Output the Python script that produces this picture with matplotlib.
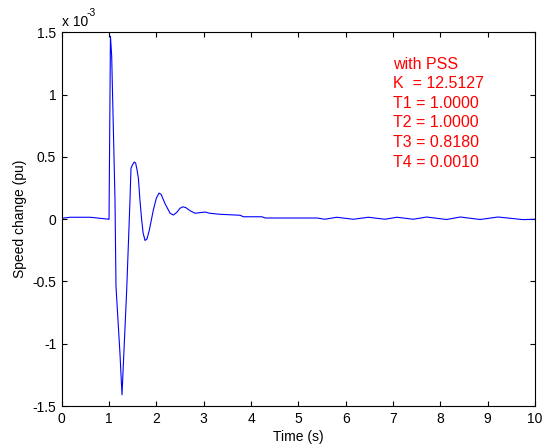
import matplotlib
matplotlib.use("Agg")
import matplotlib.pyplot as plt

# Time (s) and speed change (units of 1e-3 pu)
time_s = [0.0, 0.18, 0.6, 0.88, 0.99, 1.0, 1.03, 1.056, 1.126, 1.147, 1.23, 1.274,
          1.373, 1.443, 1.464, 1.50, 1.534, 1.563, 1.59, 1.62, 1.654, 1.69, 1.72,
          1.76, 1.80, 1.85, 1.936, 2.00, 2.056, 2.10, 2.18, 2.29, 2.36, 2.43, 2.50,
          2.556, 2.62, 2.71, 2.82, 2.92, 3.03, 3.13, 3.34, 3.77, 3.84, 4.23, 4.30,
          5.40, 5.56, 5.81, 6.16, 6.48, 6.83, 7.08, 7.43, 7.71, 8.13, 8.42, 8.84,
          9.22, 9.75, 10.0]
speed_change = [0.008, 0.016, 0.016, 0.005, 0.0, 0.0, 1.47, 1.31, 0.155, -0.54, -1.07, -1.41,
                -0.57, 0.155, 0.41, 0.44, 0.46, 0.45, 0.40, 0.33, 0.15, -0.006, -0.11,
                -0.17, -0.16, -0.09, 0.074, 0.17, 0.21, 0.20, 0.128, 0.048, 0.034, 0.055, 0.088,
                0.10, 0.094, 0.069, 0.048, 0.053, 0.058, 0.048, 0.04, 0.032, 0.02, 0.02, 0.01,
                0.01, 0.0, 0.016, 0.0, 0.016, 0.0, 0.016, 0.0, 0.018, -0.002, 0.018, -0.002,
                0.018, -0.003, 0.0]

x_ticks = list(range(0, 11))
y_ticks = [-1.5, -1, -0.5, 0, 0.5, 1, 1.5]
y_tick_labels = ["-1.5", "-1", "-0.5", "0", "0.5", "1", "1.5"]
annotation = ["with PSS", "K  = 12.5127", "T1 = 1.0000", "T2 = 1.0000",
              "T3 = 0.8180", "T4 = 0.0010"]

plt.rcParams['font.family'] = ['Liberation Sans', 'DejaVu Sans']
plt.rcParams['lines.solid_joinstyle'] = 'round'

W, H = 544, 444
fig = plt.figure(figsize=(W / 100, H / 100), dpi=100)
ax = fig.add_axes([61.7 / W, 1 - 406 / H, (535 - 61.7) / W, (406 - 32.5) / H])

ax.plot(time_s, speed_change, color='#0000ff', lw=0.8)
ax.set_xlim(0, 10)
ax.set_ylim(-1.5, 1.5)
ax.set_xticks(x_ticks)
ax.set_yticks(y_ticks)
ax.set_yticklabels(y_tick_labels)
ax.tick_params(direction='in', length=3.5, width=0.8, top=True, right=True,
               labelsize=10, pad=4, colors='black')
for s in ax.spines.values():
    s.set_linewidth(0.8)
    s.set_color('black')

ax.set_xlabel("Time (s)", fontsize=10, labelpad=3)
ax.set_ylabel("Speed change (pu)", fontsize=10, labelpad=4)

# exponent label
fig.text(62 / W, 1 - 26 / H, "x 10", fontsize=10, va='baseline', ha='left')
fig.text(87 / W, 1 - 16.5 / H, "-3", fontsize=7.5, va='baseline', ha='left')

baselines = [69.3, 88.3, 107.7, 127.3, 147.3, 166.7]
for txt, b in zip(annotation, baselines):
    fig.text(392.7 / W, 1 - b / H, txt, color='#ff0000', fontsize=11.5,
             va='baseline', ha='left')

fig.savefig("out.png", dpi=100)
